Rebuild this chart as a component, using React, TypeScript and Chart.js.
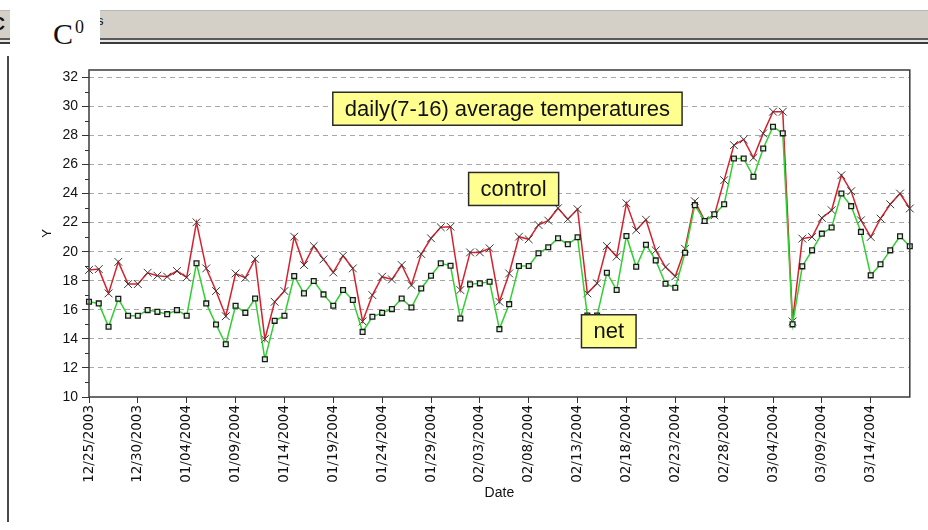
import React, { useEffect, useRef } from "react";
import { Chart, registerables } from "chart.js";

Chart.register(...registerables);

// ---- data ----
const startYear = 2003;
const startMonth = 11; // December (0-based)
const startDay = 25;
const dayCount = 85;

const dates: string[] = Array.from({ length: dayCount }, (_, i) => {
  const d = new Date(startYear, startMonth, startDay + i);
  const mm = String(d.getMonth() + 1).padStart(2, "0");
  const dd = String(d.getDate()).padStart(2, "0");
  return `${mm}/${dd}/${d.getFullYear()}`;
});

const controlTemps: number[] = [
  18.74, 18.8, 17.13, 19.3, 17.77, 17.77, 18.55, 18.35, 18.28, 18.67,
  18.23, 22.02, 18.85, 17.29, 15.56, 18.5, 18.2, 19.5, 13.98, 16.55,
  17.29, 21.03, 19.08, 20.39, 19.47, 18.57, 19.72, 18.85, 15.2, 17.01,
  18.28, 18.09, 19.08, 17.7, 19.84, 20.92, 21.68, 21.72, 17.36, 19.95,
  19.95, 20.23, 16.55, 18.5, 21.03, 20.85, 21.84, 22.14, 22.99, 22.23,
  22.92, 17.13, 17.82, 20.39, 19.66, 23.33, 21.48, 22.2, 20.09, 18.94,
  18.3, 20.2, 23.47, 22.16, 22.5, 24.92, 27.33, 27.72, 26.46, 28.14,
  29.63, 29.63, 15.2, 20.9, 21.01, 22.32, 22.85, 25.26, 24.16, 22.16,
  21.01, 22.28, 23.26, 24.0, 22.97,
];

const netTemps: number[] = [
  16.55, 16.44, 14.83, 16.76, 15.59, 15.59, 15.98, 15.86, 15.7, 15.98,
  15.59, 19.2, 16.44, 14.99, 13.63, 16.28, 15.79, 16.78, 12.6, 15.24,
  15.59, 18.32, 17.13, 17.98, 17.06, 16.28, 17.36, 16.67, 14.48, 15.52,
  15.79, 16.05, 16.78, 16.16, 17.47, 18.34, 19.2, 19.03, 15.4, 17.75,
  17.82, 17.93, 14.67, 16.39, 19.01, 19.01, 19.89, 20.3, 20.92, 20.51,
  20.99, 15.6, 15.6, 18.55, 17.36, 21.08, 18.96, 20.48, 19.4, 17.79,
  17.52, 19.93, 23.2, 22.11, 22.57, 23.26, 26.41, 26.41, 25.15, 27.1,
  28.6, 28.14, 15.0, 18.99, 20.09, 21.24, 21.66, 24.0, 23.13, 21.36,
  18.37, 19.13, 20.09, 21.06, 20.37,
];

const yMin = 10;
const yMax = 32.5;
const labelEvery = 5;

// annotation boxes: text, left edge (day index), top edge (value)
const noteTexts: string[] = ["daily(7-16) average temperatures", "control", "net"];
const noteX: number[] = [24.95, 38.85, 50.4];
const noteY: number[] = [30.97, 25.45, 15.66];

const framePlugin = {
  id: "frameAndNotes",
  afterDatasetsDraw(chart: any) {
    const { ctx, chartArea } = chart;
    const xs = chart.scales.x;
    const ys = chart.scales.y;
    ctx.save();
    // frame
    ctx.strokeStyle = "#3a3a3a";
    ctx.lineWidth = 1.5;
    ctx.strokeRect(chartArea.left, chartArea.top, chartArea.right - chartArea.left, chartArea.bottom - chartArea.top);
    // minor ticks
    ctx.lineWidth = 1;
    ctx.strokeStyle = "#333";
    for (let v = Math.ceil(yMin); v <= Math.floor(yMax); v++) {
      if (v % 2 !== 0) {
        const y = Math.round(ys.getPixelForValue(v)) + 0.5;
        ctx.beginPath();
        ctx.moveTo(chartArea.left - 4, y);
        ctx.lineTo(chartArea.left, y);
        ctx.stroke();
      }
    }
    // notes
    ctx.font = '22px "Liberation Sans", Arial, sans-serif';
    ctx.textBaseline = "middle";
    noteTexts.forEach((t, i) => {
      const left = xs.getPixelForValue(noteX[i]);
      const top = ys.getPixelForValue(noteY[i]);
      const w = ctx.measureText(t).width + 24;
      const h = 33;
      ctx.fillStyle = "#ffff90";
      ctx.fillRect(left, top, w, h);
      ctx.strokeStyle = "#2a2a2a";
      ctx.lineWidth = 1.5;
      ctx.strokeRect(left, top, w, h);
      ctx.fillStyle = "#111";
      ctx.fillText(t, left + 12, top + h / 2 + 1);
    });
    ctx.restore();
  },
};

export default function App() {
  const canvasRef = useRef<HTMLCanvasElement | null>(null);

  useEffect(() => {
    if (!canvasRef.current) return;
    const chart = new Chart(canvasRef.current, {
      type: "line",
      data: {
        labels: dates,
        datasets: [
          {
            label: "control",
            data: controlTemps,
            borderColor: "#d8202c",
            borderWidth: 1.5,
            pointStyle: "crossRot",
            pointRadius: 5.5,
            pointBorderColor: "#3a3a3a",
            pointBorderWidth: 1,
            pointBackgroundColor: "#3a3a3a",
            tension: 0,
            order: 2,
          },
          {
            label: "net",
            data: netTemps,
            borderColor: "#2fd02f",
            borderWidth: 1.5,
            pointStyle: "rect",
            pointRadius: 3.4,
            pointBorderColor: "#1a1a1a",
            pointBorderWidth: 1.3,
            pointBackgroundColor: "#d8f5d8",
            tension: 0,
            order: 1,
          },
        ],
      },
      options: {
        animation: false,
        responsive: false,
        devicePixelRatio: 1,
        layout: { padding: { left: 40, right: 18, top: 70, bottom: 28 } },
        plugins: {
          legend: { display: false },
          tooltip: { enabled: false },
        },
        scales: {
          x: {
            type: "category",
            offset: false,
            afterFit: (s: any) => {
              s.height = 105;
            },
            grid: {
              drawOnChartArea: false,
              drawTicks: true,
              tickLength: 6,
              tickColor: (c: any) => (c.index % labelEvery === 0 ? "#333" : "rgba(0,0,0,0)"),
              color: "rgba(0,0,0,0)",
            },
            border: { display: false },
            ticks: {
              autoSkip: false,
              minRotation: 90,
              maxRotation: 90,
              padding: 2,
              color: "#111",
              font: { family: '"DejaVu Sans", sans-serif', size: 13.5 },
              callback: (_v: any, i: number) => (i % labelEvery === 0 ? dates[i] : ""),
            },
            title: {
              display: true,
              text: "Date",
              color: "#111",
              padding: { top: 0, bottom: 0 },
              font: { family: '"Liberation Sans", Arial, sans-serif', size: 14 },
            },
          },
          y: {
            type: "linear",
            min: yMin,
            max: yMax,
            afterFit: (s: any) => {
              s.width = 49;
            },
            grid: {
              color: (c: any) =>
                c.tick && c.tick.value % 2 === 0 && c.tick.value > yMin ? "#a8a8a8" : "rgba(0,0,0,0)",
              lineWidth: 1,
              tickLength: 7,
              tickColor: (c: any) => (c.tick && c.tick.value % 2 === 0 ? "#333" : "rgba(0,0,0,0)"),
            },
            border: { display: false, dash: [5, 4] },
            ticks: {
              stepSize: 1,
              includeBounds: false,
              padding: 4,
              color: "#111",
              font: { family: '"Liberation Sans", Arial, sans-serif', size: 14 },
              callback: (v: any) => (Number(v) % 2 === 0 ? String(v) : ""),
            },
            title: {
              display: true,
              text: "Y",
              color: "#111",
              padding: { top: 0, bottom: 0 },
              font: { family: '"Liberation Sans", Arial, sans-serif', size: 13 },
            },
          },
        },
      },
      plugins: [framePlugin],
    } as any);
    return () => chart.destroy();
  }, []);

  return (
    <div
      style={{
        position: "fixed",
        left: 0,
        top: 0,
        width: 928,
        height: 530,
        background: "#ffffff",
        overflow: "hidden",
      }}
    >
      {/* window title bar fragment */}
      <div
        style={{
          position: "absolute",
          left: 0,
          top: 10,
          width: 928,
          height: 28,
          background: "#d4d0c8",
          borderTop: "1px solid #b8b8b8",
        }}
      />
      <div style={{ position: "absolute", left: 0, top: 38, width: 928, height: 2, background: "#5a5a5a" }} />
      <div style={{ position: "absolute", left: 0, top: 40, width: 928, height: 2, background: "#e8e8e8" }} />
      <div style={{ position: "absolute", left: 0, top: 42, width: 928, height: 2, background: "#3a3a3a" }} />
      <div
        style={{
          position: "absolute",
          left: -8,
          top: 14,
          font: "bold 18px 'Liberation Sans', Arial, sans-serif",
          color: "#111",
        }}
      >
        C
      </div>
      <div
        style={{
          position: "absolute",
          left: 97,
          top: 13,
          font: "13px 'Liberation Sans', Arial, sans-serif",
          color: "#111",
        }}
      >
        s
      </div>
      <div style={{ position: "absolute", left: 10, top: 0, width: 90, height: 52, background: "#ffffff" }} />
      <div
        style={{
          position: "absolute",
          left: 53,
          top: 17,
          font: "30px 'Liberation Serif', 'Times New Roman', serif",
          color: "#111",
          lineHeight: "34px",
          whiteSpace: "nowrap",
        }}
      >
        C<sup style={{ fontSize: 18, verticalAlign: "top", position: "relative", top: -7, marginLeft: 2 }}>0</sup>
      </div>
      {/* left frame line */}
      <div style={{ position: "absolute", left: 7, top: 56, width: 2, height: 466, background: "#4a4a4a" }} />
      <canvas
        ref={canvasRef}
        width={928}
        height={530}
        style={{ position: "absolute", left: 0, top: 0, width: 928, height: 530 }}
      />
    </div>
  );
}
